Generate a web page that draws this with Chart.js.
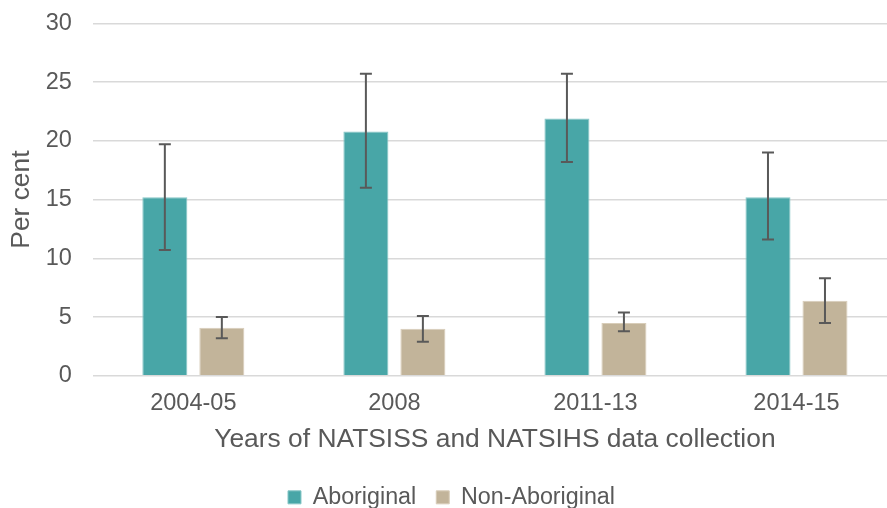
<!DOCTYPE html>
<html>
<head>
<meta charset="utf-8">
<script src="https://cdn.jsdelivr.net/npm/chart.js@4.4.1/dist/chart.umd.min.js"></script>
<style>
  html, body { margin: 0; padding: 0; background: #fff; overflow: hidden; }
  #wrap { position: absolute; left: 0; top: 0; width: 914px; height: 520px; }
</style>
</head>
<body>
<div id="wrap"><canvas id="chart"></canvas></div>
<script>
// Données (pourcentage, intervalles de confiance)
const categories = ['2004-05', '2008', '2011-13', '2014-15'];
const aboriginal = [15.2, 20.8, 21.9, 15.2];
const aboriginalLow = [10.7, 16.0, 18.2, 11.6];
const aboriginalHigh = [19.7, 25.7, 25.7, 19.0];
const nonAboriginal = [4.1, 4.0, 4.5, 6.4];
const nonAboriginalLow = [3.2, 2.9, 3.8, 4.5];
const nonAboriginalHigh = [5.0, 5.1, 5.4, 8.3];
const yTicks = [0, 5, 10, 15, 20, 25, 30];

const textColor = '#595959';
const fontFamily = '"Liberation Sans", Arial, sans-serif';

// petit plugin pour les barres d'erreur
const errorBars = {
    id: 'errorBars',
    afterDatasetsDraw(chart) {
        const ctx = chart.ctx;
        const yScale = chart.scales.y;
        chart.data.datasets.forEach((ds, i) => {
            const meta = chart.getDatasetMeta(i);
            if (meta.hidden || !ds.errLow) return;
            meta.data.forEach((bar, j) => {
                const x = bar.x;
                const yLo = yScale.getPixelForValue(ds.errLow[j]);
                const yHi = yScale.getPixelForValue(ds.errHigh[j]);
                ctx.save();
                ctx.strokeStyle = '#595959';
                ctx.lineWidth = 2;
                ctx.beginPath();
                ctx.moveTo(x, yLo); ctx.lineTo(x, yHi);
                ctx.moveTo(x - 6, yLo); ctx.lineTo(x + 6, yLo);
                ctx.moveTo(x - 6, yHi); ctx.lineTo(x + 6, yHi);
                ctx.stroke();
                ctx.restore();
            });
        });
    }
};

const ctx = document.getElementById('chart').getContext('2d');
new Chart(ctx, {
    type: 'bar',
    data: {
        labels: categories,
        datasets: [
            {
                label: 'Aboriginal',
                data: aboriginal,
                errLow: aboriginalLow,
                errHigh: aboriginalHigh,
                backgroundColor: '#48a6a7',
                borderColor: '#86c6c6',
                borderWidth: 1,
                categoryPercentage: 0.567,
                barPercentage: 0.79
            },
            {
                label: 'Non-Aboriginal',
                data: nonAboriginal,
                errLow: nonAboriginalLow,
                errHigh: nonAboriginalHigh,
                backgroundColor: '#c2b49a',
                borderColor: '#d8cdb9',
                borderWidth: 1,
                categoryPercentage: 0.567,
                barPercentage: 0.79
            }
        ]
    },
    options: {
        responsive: true,
        maintainAspectRatio: false,
        animation: false,
        layout: { padding: { top: 11, right: 17, left: 6, bottom: 1 } },
        scales: {
            x: {
                grid: { display: false, drawTicks: false },
                border: { display: false },
                ticks: {
                    color: textColor,
                    font: { family: fontFamily, size: 23.5 },
                    padding: 14,
                    maxRotation: 0,
                    autoSkip: false
                },
                title: {
                    display: true,
                    text: 'Years of NATSISS and NATSIHS data collection',
                    color: textColor,
                    font: { family: fontFamily, size: 26.4 },
                    padding: { top: -8, bottom: 10 }
                }
            },
            y: {
                min: 0,
                max: 30,
                afterBuildTicks: axis => { axis.ticks = yTicks.map(v => ({ value: v })); },
                grid: { color: '#d9d9d9', lineWidth: 1.5, drawTicks: false },
                border: { display: false },
                ticks: {
                    color: textColor,
                    // lineHeight réduit : sinon Chart.js pousse le haut du graphique
                    font: { family: fontFamily, size: 23.5, lineHeight: 0.2 },
                    padding: 21
                },
                title: {
                    display: true,
                    text: 'Per cent',
                    color: textColor,
                    font: { family: fontFamily, size: 26.4 },
                    padding: { top: 0, bottom: -13 }
                }
            }
        },
        plugins: {
            legend: {
                position: 'bottom',
                labels: {
                    color: textColor,
                    font: { family: fontFamily, size: 23.3 },
                    boxWidth: 13,
                    boxHeight: 13,
                    padding: 20
                }
            },
            tooltip: { enabled: false }
        }
    },
    plugins: [errorBars]
});
</script>
</body>
</html>
